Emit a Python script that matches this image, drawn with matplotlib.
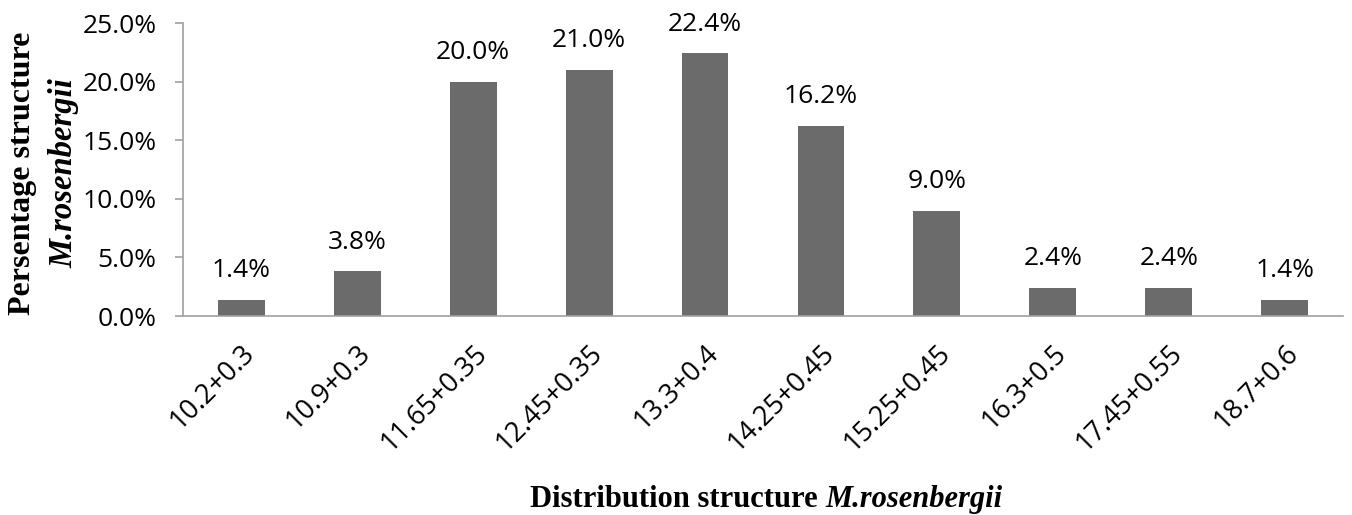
import matplotlib.pyplot as plt

# data
categories = ['10.2+0.3', '10.9+0.3', '11.65+0.35', '12.45+0.35', '13.3+0.4',
              '14.25+0.45', '15.25+0.45', '16.3+0.5', '17.45+0.55', '18.7+0.6']
percent = [1.4, 3.8, 20.0, 21.0, 22.4, 16.2, 9.0, 2.4, 2.4, 1.4]
yticks = [0, 5, 10, 15, 20, 25]

label_font = 'Open Sans'
title_font = 'Liberation Serif'

fig = plt.figure(figsize=(13.52, 5.15), dpi=100)
ax = fig.add_axes([0.1354, 0.3864, 0.8579, 0.5689])

x = list(range(len(categories)))
ax.bar(x, percent, width=0.405, color='#6b6b6b')

for xi, v in zip(x, percent):
    ax.annotate('%.1f%%' % v, xy=(xi, v), xytext=(0, 16.5), textcoords='offset points',
                ha='center', va='baseline', fontsize=19, family=label_font, color='black')

ax.set_xlim(-0.5, len(categories) - 0.5)
ax.set_ylim(0, 25)
ax.set_yticks(yticks)
ax.set_yticklabels(['%.1f%%' % t for t in yticks], fontsize=19, family=label_font)
ax.set_xticks(x)
ax.set_xticklabels(categories, rotation=45, ha='right', rotation_mode='anchor',
                   fontsize=19.5, family=label_font)

for s in ['top', 'right']:
    ax.spines[s].set_visible(False)
for s in ['left', 'bottom']:
    ax.spines[s].set_color('#a0a0a0')
    ax.spines[s].set_linewidth(1.2)
ax.tick_params(axis='y', length=6, width=1.2, color='#a0a0a0', pad=13)
ax.tick_params(axis='x', length=0, pad=17)

# axis titles (bold, with italic species name)
t1 = fig.text(0.5, 0.0155, 'Distribution structure ', family=title_font, fontweight='bold',
              fontsize=22, ha='right', va='baseline')
t2 = fig.text(0.5, 0.0155, 'M.rosenbergii', family=title_font, fontweight='bold',
              style='italic', fontsize=22, ha='left', va='baseline')
fig.canvas.draw()
r = fig.canvas.get_renderer()
w1 = t1.get_window_extent(r).width
w2 = t2.get_window_extent(r).width
cx = 766
start = cx - (w1 + w2) / 2
t1.set_x((start + w1) / 1352)
t2.set_x((start + w1) / 1352)

fig.text(0.0163, 0.664, 'Persentage structure', family=title_font, fontweight='bold',
         fontsize=23, rotation=90, ha='center', va='center')
fig.text(0.047, 0.664, 'M.rosenbergii', family=title_font, fontweight='bold',
         style='italic', fontsize=23.5, rotation=90, ha='center', va='center')

fig.savefig('out.png', dpi=100)
